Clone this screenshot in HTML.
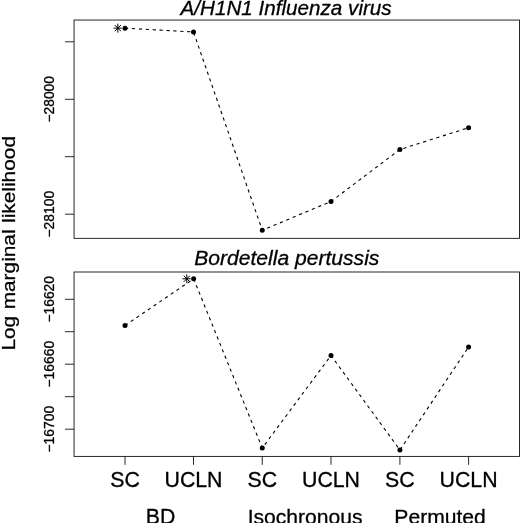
<!DOCTYPE html>
<html>
<head>
<meta charset="utf-8">
<title>Log marginal likelihood</title>
<style>
html,body{margin:0;padding:0;background:#fff;}
body{width:520px;height:523px;overflow:hidden;}
svg{display:block;}
text{font-family:"Liberation Sans",sans-serif;fill:#000;stroke:#000;stroke-width:0.3px;}
.ax{font-size:21.3px;}
.tk{font-size:13.85px;}
.ti{font-size:21.2px;font-style:italic;}
.ln{stroke:#111;stroke-width:0.9;fill:none;}
.st{stroke:#000;stroke-width:1;fill:none;}
.ds{stroke:#000;stroke-width:1.1;fill:none;stroke-dasharray:3.2 3.72;}
</style>
</head>
<body>
<svg width="520" height="523" viewBox="0 0 520 523">
<rect x="0" y="0" width="520" height="523" fill="#fff"/>

<!-- panel 1 -->
<text class="ti" x="286.1" y="15" text-anchor="middle" style="font-size:20.65px">A/H1N1 Influenza virus</text>
<rect class="ln" x="74.05" y="20.05" width="445.45" height="218.3"/>
<g class="ln">
<line x1="65" y1="41.8" x2="74" y2="41.8"/>
<line x1="65" y1="99.3" x2="74" y2="99.3"/>
<line x1="65" y1="156.7" x2="74" y2="156.7"/>
<line x1="65" y1="214.2" x2="74" y2="214.2"/>
</g>
<text class="tk" transform="translate(53.8,99.3) rotate(-90)" text-anchor="middle">−28000</text>
<text class="tk" transform="translate(53.8,214.2) rotate(-90)" text-anchor="middle">−28100</text>
<polyline class="ds" points="125,28.15 193.5,32 262.25,230.25 331,201.5 399.9,149.5 468.6,127.7"/>
<g fill="#000">
<circle cx="125" cy="28.15" r="2.5"/>
<circle cx="193.5" cy="32" r="2.5"/>
<circle cx="262.25" cy="230.25" r="2.5"/>
<circle cx="331" cy="201.5" r="2.5"/>
<circle cx="399.9" cy="149.5" r="2.5"/>
<circle cx="468.6" cy="127.7" r="2.5"/>
</g>
<g class="st" transform="translate(117.85,28.15)">
<line x1="-4.3" y1="0" x2="3.9" y2="0"/><line x1="0" y1="-4.5" x2="0" y2="4.5"/>
<line x1="-3.1" y1="-3.1" x2="3.1" y2="3.1"/><line x1="-3.1" y1="3.1" x2="3.1" y2="-3.1"/>
</g>

<!-- panel 2 -->
<text class="ti" x="286.8" y="265.2" text-anchor="middle" style="font-size:21.08px">Bordetella pertussis</text>
<rect class="ln" x="74.05" y="272" width="445.45" height="184.4"/>
<g class="ln">
<line x1="65" y1="299.3" x2="74" y2="299.3"/>
<line x1="65" y1="331.7" x2="74" y2="331.7"/>
<line x1="65" y1="364.2" x2="74" y2="364.2"/>
<line x1="65" y1="396.7" x2="74" y2="396.7"/>
<line x1="65" y1="429.2" x2="74" y2="429.2"/>
</g>
<text class="tk" transform="translate(53.8,299.3) rotate(-90)" text-anchor="middle">−16620</text>
<text class="tk" transform="translate(53.8,364.2) rotate(-90)" text-anchor="middle">−16660</text>
<text class="tk" transform="translate(53.8,429.2) rotate(-90)" text-anchor="middle">−16700</text>
<polyline class="ds" points="125,325.5 193.65,278.8 262.25,448 331,355.5 399.9,450 468.6,347"/>
<g fill="#000">
<circle cx="125" cy="325.5" r="2.5"/>
<circle cx="193.65" cy="278.8" r="2.5"/>
<circle cx="262.25" cy="448" r="2.5"/>
<circle cx="331" cy="355.5" r="2.5"/>
<circle cx="399.9" cy="450" r="2.5"/>
<circle cx="468.6" cy="347" r="2.5"/>
</g>
<g class="st" transform="translate(186.8,278.8)">
<line x1="-4.3" y1="0" x2="3.9" y2="0"/><line x1="0" y1="-4.5" x2="0" y2="4.5"/>
<line x1="-3.1" y1="-3.1" x2="3.1" y2="3.1"/><line x1="-3.1" y1="3.1" x2="3.1" y2="-3.1"/>
</g>

<!-- x axis -->
<g class="ln">
<line x1="125" y1="456.4" x2="125" y2="464.8"/>
<line x1="193.5" y1="456.4" x2="193.5" y2="464.8"/>
<line x1="262.25" y1="456.4" x2="262.25" y2="464.8"/>
<line x1="331" y1="456.4" x2="331" y2="464.8"/>
<line x1="399.9" y1="456.4" x2="399.9" y2="464.8"/>
<line x1="468.6" y1="456.4" x2="468.6" y2="464.8"/>
</g>
<g class="ax" text-anchor="middle">
<text x="125" y="487.2">SC</text>
<text x="193.5" y="487.2">UCLN</text>
<text x="262.25" y="487.2">SC</text>
<text x="331" y="487.2">UCLN</text>
<text x="399.9" y="487.2">SC</text>
<text x="468.6" y="487.2">UCLN</text>
<text x="160.6" y="523.8">BD</text>
<text x="305.1" y="523.9" style="font-size:21.1px">Isochronous</text>
<text x="440.1" y="523.9" style="font-size:21.1px">Permuted</text>
</g>
<text class="ax" transform="translate(15.4,243.3) rotate(-90) scale(1,0.9)" text-anchor="middle" style="font-size:20.85px;word-spacing:0.7px">Log marginal likelihood</text>
</svg>
</body>
</html>
